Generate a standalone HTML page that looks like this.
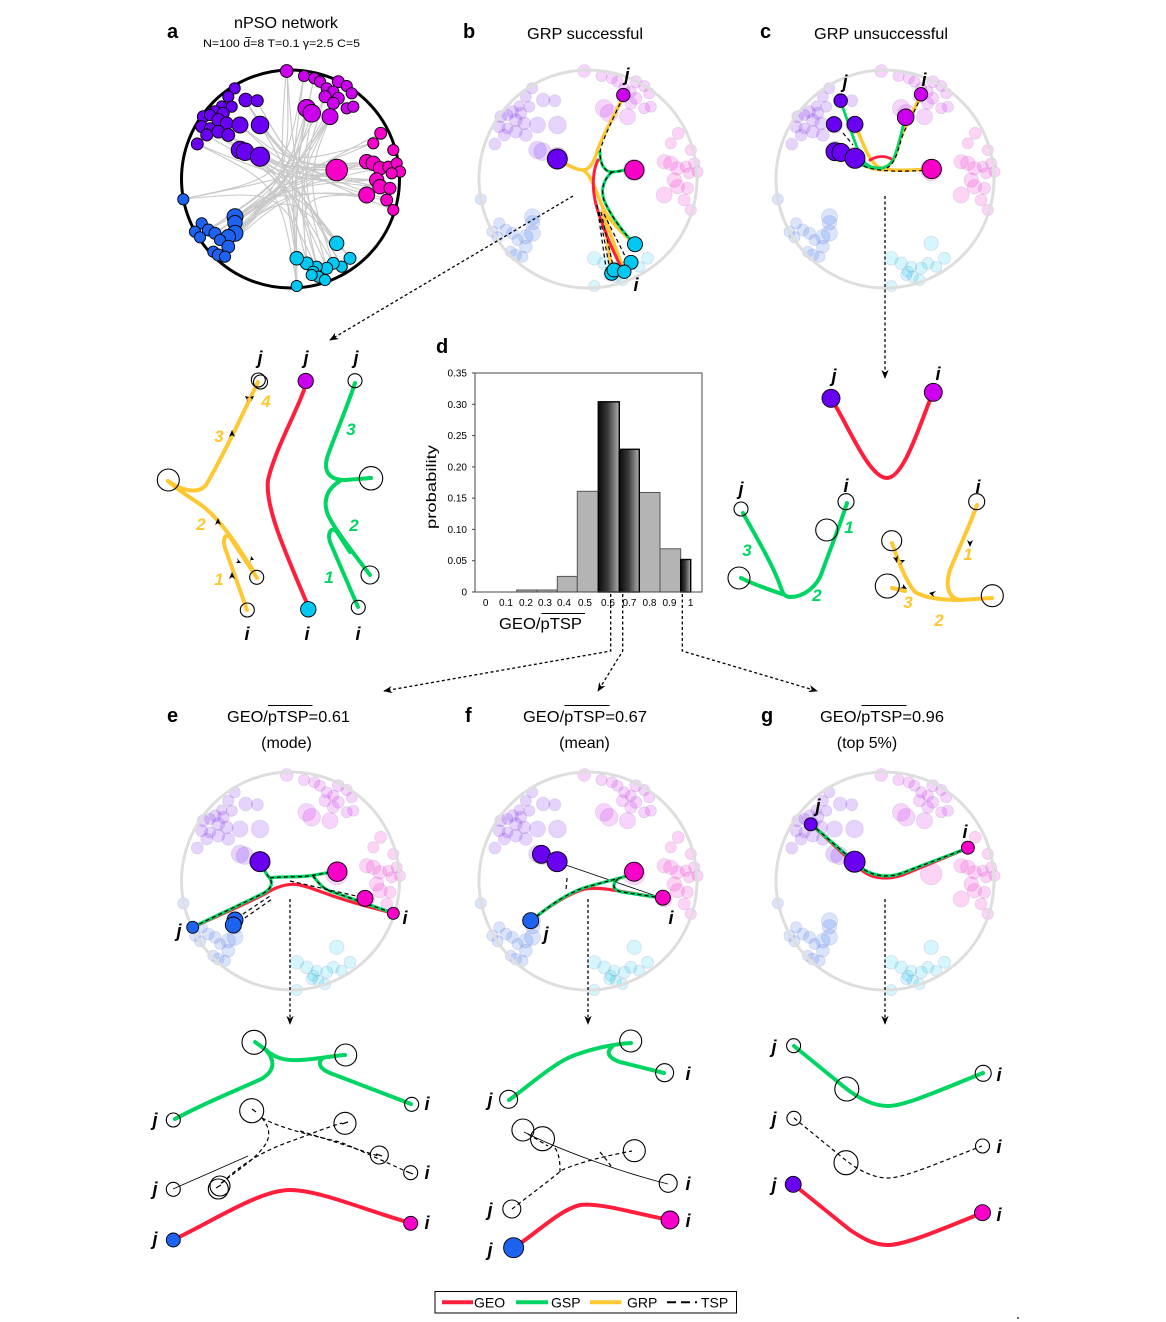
<!DOCTYPE html>
<html><head><meta charset="utf-8"><style>
html,body{margin:0;padding:0;background:#fff;}
svg{display:block;font-family:"Liberation Sans",Arial,sans-serif;}
.lab{font-weight:bold;font-style:italic;font-size:18px;text-anchor:middle;}
.num{font-weight:bold;font-style:italic;font-size:17px;text-anchor:middle;}
.ttl{font-size:16px;}
.pl{font-weight:bold;font-size:20px;}
.geo{stroke:#ff1f3d;fill:none;stroke-linecap:round;stroke-linejoin:round;}
.gsp{stroke:#00d564;fill:none;stroke-linecap:round;stroke-linejoin:round;}
.grp{stroke:#ffc832;fill:none;stroke-linecap:round;stroke-linejoin:round;}
.tsp{stroke:#000;fill:none;stroke-dasharray:4 3;stroke-width:1.2;}
.oc{fill:none;stroke:#000;stroke-width:1.1;}
.arr{stroke:#000;fill:none;stroke-width:1.3;stroke-dasharray:3 2.5;}
</style></head><body>
<svg width="1166" height="1322" viewBox="0 0 1166 1322" xmlns="http://www.w3.org/2000/svg">
<defs>
<linearGradient id="dg" x1="0" x2="1" y1="0" y2="0">
<stop offset="0" stop-color="#0a0a0a"/><stop offset="0.45" stop-color="#3a3a3a"/><stop offset="1" stop-color="#b0b0b0"/>
</linearGradient>
<marker id="ah" viewBox="0 0 10 10" refX="9" refY="5" markerWidth="7" markerHeight="7" orient="auto"><path d="M0,1 L10,5 L0,9 L3,5 Z" fill="#000"/></marker>
<g id="nodes">
<g fill="#6a00f2">
<circle cx="234.7" cy="88.3" r="5.6"/><circle cx="228.3" cy="96.7" r="5.6"/><circle cx="245.7" cy="100" r="6.8"/><circle cx="257.3" cy="100.7" r="6"/><circle cx="221.7" cy="106" r="5.2"/><circle cx="231.7" cy="106.7" r="5.6"/><circle cx="215" cy="111.7" r="6"/><circle cx="223.3" cy="113.3" r="6"/><circle cx="203.3" cy="116.7" r="6"/><circle cx="210" cy="115" r="5.6"/><circle cx="218.3" cy="120" r="6.4"/><circle cx="226.7" cy="123.3" r="6.4"/><circle cx="240" cy="125" r="8"/><circle cx="260" cy="125" r="8.8"/><circle cx="201.7" cy="126.7" r="6"/><circle cx="210" cy="128.3" r="5.6"/><circle cx="218.3" cy="131.7" r="6.4"/><circle cx="228.3" cy="135" r="6.4"/><circle cx="206.7" cy="135" r="6"/><circle cx="197.3" cy="144" r="6"/><circle cx="240" cy="150" r="8.8"/><circle cx="245" cy="151.7" r="8.8"/><circle cx="260" cy="156.7" r="9.6"/>
</g>
<g fill="#cc00ee">
<circle cx="286.7" cy="71" r="6.4"/><circle cx="304" cy="76" r="5.6"/><circle cx="314.3" cy="78.3" r="5.6"/><circle cx="320" cy="81.7" r="5.6"/><circle cx="338.3" cy="81.7" r="6"/><circle cx="346.7" cy="86" r="5.6"/><circle cx="326.7" cy="88.3" r="5.6"/><circle cx="333.3" cy="91.7" r="5.6"/><circle cx="351.7" cy="93.3" r="5.6"/><circle cx="325" cy="96.7" r="6"/><circle cx="338.3" cy="98.3" r="6"/><circle cx="333.3" cy="103.3" r="6"/><circle cx="346.7" cy="108.3" r="5.6"/><circle cx="353.3" cy="106.7" r="5.6"/><circle cx="306.7" cy="108.3" r="8.8"/><circle cx="311.7" cy="113.3" r="8.8"/><circle cx="330" cy="116.7" r="8"/>
</g>
<g fill="#f700c8">
<circle cx="380.7" cy="133.3" r="6"/><circle cx="373.3" cy="143.3" r="5.6"/><circle cx="393.3" cy="150" r="5.6"/><circle cx="336.7" cy="170" r="10.8"/><circle cx="366.7" cy="161.7" r="7.2"/><circle cx="373.3" cy="163.3" r="7.2"/><circle cx="380" cy="168.3" r="6.8"/><circle cx="388.3" cy="166.7" r="5.6"/><circle cx="396.7" cy="163.3" r="5.6"/><circle cx="400" cy="171.7" r="5.6"/><circle cx="391.7" cy="173.3" r="5.6"/><circle cx="376.7" cy="180" r="7.2"/><circle cx="366.7" cy="195" r="8"/><circle cx="380" cy="186.7" r="7.2"/><circle cx="390" cy="188.3" r="6"/><circle cx="386.7" cy="200" r="6"/><circle cx="393.3" cy="210" r="5.6"/>
</g>
<g fill="#1e62f0">
<circle cx="183.3" cy="199.3" r="5.6"/><circle cx="235" cy="216.7" r="8"/><circle cx="235" cy="222.7" r="7.2"/><circle cx="235" cy="233.3" r="8"/><circle cx="228.3" cy="236.7" r="7.2"/><circle cx="201.7" cy="223.3" r="5.6"/><circle cx="208.3" cy="230" r="6"/><circle cx="215" cy="233.3" r="6"/><circle cx="195" cy="231.7" r="5.6"/><circle cx="200" cy="237.3" r="5.6"/><circle cx="220" cy="240" r="5.6"/><circle cx="228.3" cy="246.7" r="6.4"/><circle cx="213.3" cy="251.7" r="5.6"/><circle cx="218.3" cy="255" r="6"/><circle cx="225" cy="256.7" r="5.6"/>
</g>
<g fill="#00c8f0">
<circle cx="336.7" cy="243.3" r="7.2"/><circle cx="350" cy="258.3" r="6"/><circle cx="341.7" cy="266.7" r="5.6"/><circle cx="333.3" cy="263.3" r="6"/><circle cx="326.7" cy="268.3" r="6"/><circle cx="316.7" cy="266.7" r="5.6"/><circle cx="306.7" cy="263.3" r="6.4"/><circle cx="313.3" cy="271.7" r="5.6"/><circle cx="318.3" cy="276.7" r="5.6"/><circle cx="325" cy="280" r="5.6"/><circle cx="296.7" cy="258.3" r="6.8"/><circle cx="296.7" cy="286" r="5.6"/><circle cx="311.7" cy="275" r="5.6"/>
</g>
</g>
</defs>

<!-- ============ PANEL A ============ -->
<text class="pl" x="167" y="38">a</text>
<text class="ttl" x="234" y="28" textLength="104" lengthAdjust="spacingAndGlyphs">nPSO network</text>
<text x="203" y="47" font-size="11" textLength="157" lengthAdjust="spacingAndGlyphs">N=100 d=8 T=0.1 γ=2.5 C=5</text>
<line x1="245" y1="37.5" x2="251" y2="37.5" stroke="#000" stroke-width="0.8"/>
<g fill="none" stroke="#c8c8c8" stroke-width="1.1">
<path d="M260,157 C290,180 290,180 337,243"/><path d="M240,150 C288,182 288,182 327,268"/><path d="M260,125 C292,178 292,178 317,267"/><path d="M245,100 C290,175 290,175 342,267"/><path d="M228,135 C285,178 285,178 307,263"/><path d="M218,132 C288,185 288,185 297,258"/><path d="M206,135 C285,180 285,180 333,263"/><path d="M197,144 C280,185 280,185 297,286"/><path d="M201,127 C290,178 290,178 350,258"/><path d="M257,101 C295,170 295,170 367,162"/><path d="M240,125 C290,172 290,172 373,163"/><path d="M260,157 C295,175 295,175 377,180"/><path d="M228,135 C290,170 290,170 367,195"/><path d="M240,150 C290,178 290,178 380,187"/><path d="M307,108 C285,180 285,180 235,217"/><path d="M312,113 C288,182 288,182 235,223"/><path d="M330,117 C290,185 290,185 228,237"/><path d="M325,97 C285,178 285,178 208,230"/><path d="M338,98 C290,182 290,182 215,233"/><path d="M333,103 C285,185 285,185 218,255"/><path d="M287,71 C290,170 290,170 228,247"/><path d="M304,76 C285,178 285,178 183,199"/><path d="M314,78 C292,180 292,180 235,233"/><path d="M307,108 C295,180 295,180 297,258"/><path d="M312,113 C300,185 300,185 307,263"/><path d="M330,117 C298,180 298,180 317,267"/><path d="M325,97 C300,175 300,175 327,268"/><path d="M338,98 C305,178 305,178 333,263"/><path d="M287,71 C295,178 295,178 342,267"/><path d="M337,170 C290,180 290,180 235,217"/><path d="M367,162 C290,185 290,185 235,223"/><path d="M373,163 C285,182 285,182 228,237"/><path d="M380,168 C288,188 288,188 208,230"/><path d="M377,180 C290,185 290,185 215,233"/><path d="M367,195 C290,190 290,190 218,255"/><path d="M373,143 C288,178 288,178 183,199"/><path d="M381,133 C290,180 290,180 228,247"/><path d="M387,200 C292,188 292,188 235,233"/><path d="M337,170 C295,185 295,185 297,286"/><path d="M367,195 C300,195 300,195 307,263"/><path d="M337,170 C290,170 290,170 260,157"/><path d="M373,143 C290,165 290,165 240,125"/><path d="M367,162 C292,168 292,168 245,100"/><path d="M235,217 C292,185 292,185 337,243"/><path d="M228,237 C290,190 290,190 350,258"/><path d="M183,199 C280,190 280,190 316,267"/><path d="M208,230 C285,180 285,180 307,108"/><path d="M218,255 C290,175 290,175 330,117"/><path d="M260,125 C295,170 295,170 380,187"/><path d="M245,100 C290,168 290,168 393,210"/><path d="M257,101 C292,165 292,165 387,200"/><path d="M201,127 C288,172 288,172 380,168"/><path d="M197,144 C285,180 285,180 377,180"/><path d="M297,258 C290,180 290,180 304,76"/><path d="M296,286 C292,185 292,185 314,78"/><path d="M286,71 C280,160 280,160 296,258"/><path d="M260,157 C300,170 300,170 366,162"/>
</g>
<circle cx="290.5" cy="179" r="109" fill="none" stroke="#000" stroke-width="3"/>
<use href="#nodes" stroke="#000" stroke-width="0.9"/>

<!-- ============ PANEL B ============ -->
<text class="pl" x="463" y="38">b</text>
<text class="ttl" x="527" y="39" textLength="116" lengthAdjust="spacingAndGlyphs">GRP successful</text>
<use href="#nodes" transform="translate(297.5,0)" fill-opacity="0.17" stroke="#8a6fb0" stroke-opacity="0.2" stroke-width="0.8"/>
<circle cx="588" cy="179" r="109" fill="none" stroke="#dedede" stroke-width="3"/>
<g stroke-width="3.5">
<path class="grp" d="M623,97 C615,115 600,140 597,152 C593,165 588,170 583,170 C575,170 565,163 558,160"/>
<path class="grp" d="M583,170 C592,175 597,195 603,208 C612,225 628,238 635,244"/>
<path class="grp" d="M603,208 C608,230 618,255 624,270"/>
<path class="grp" d="M603,210 C606,235 610,255 612,272"/>
</g>
<g stroke-width="3">
<path class="gsp" d="M600,152 C600,165 605,172 612,172 C620,172 628,168 634,170"/>
<path class="gsp" d="M612,172 C605,178 600,188 604,200 C610,215 625,235 635,244"/>
<path class="geo" d="M598,160 C593,170 592,185 595,200 C598,215 610,245 620,265"/>
</g>
<path class="tsp" d="M623,97 C615,115 602,140 600,152 C600,165 605,172 612,172 C620,172 628,168 634,170"/>
<path class="tsp" d="M612,172 C605,178 600,188 604,200 C610,215 625,235 635,244"/>
<path class="tsp" d="M599,212 L610,270 M601,212 L614,270 M604,214 L628,262 M597,205 L606,268"/>
<g stroke="#000" stroke-width="0.9">
<circle cx="623.3" cy="95" r="6.7" fill="#cc00ee"/>
<circle cx="557.3" cy="159" r="10" fill="#6a00f2"/>
<circle cx="634.3" cy="170" r="9.7" fill="#f700c8"/>
<circle cx="635" cy="244.3" r="7.5" fill="#00c8f0"/>
<circle cx="631" cy="262.3" r="7" fill="#00c8f0"/>
<circle cx="611.7" cy="273.3" r="7" fill="#00c8f0"/>
<circle cx="614" cy="270" r="7" fill="#00c8f0"/>
<circle cx="624.3" cy="271.7" r="6.7" fill="#00c8f0"/>
</g>
<text class="lab" x="627" y="81">j</text>
<text class="lab" x="636" y="291">i</text>

<!-- ============ PANEL C ============ -->
<text class="pl" x="760" y="38">c</text>
<text class="ttl" x="814" y="39" textLength="134" lengthAdjust="spacingAndGlyphs">GRP unsuccessful</text>
<use href="#nodes" transform="translate(594.5,0)" fill-opacity="0.17" stroke="#8a6fb0" stroke-opacity="0.2" stroke-width="0.8"/>
<circle cx="885" cy="179" r="109" fill="none" stroke="#dedede" stroke-width="3"/>
<g stroke-width="3.5">
<path class="grp" d="M855,125 C862,140 868,160 878,167 C890,172 910,170 931,169"/>
<path class="grp" d="M921,94 C915,110 905,125 900,140 C896,155 893,165 885,167"/>
<path class="grp" d="M855,158 C862,166 872,170 885,170"/>
</g>
<g stroke-width="2.8">
<path class="geo" d="M870,160 Q882,153 893,160"/>
<path class="gsp" d="M841,103 C846,115 852,135 858,150 C862,160 865,165 872,167 C880,170 888,168 893,160 C898,150 902,130 905,118"/>
<path class="gsp" d="M855,158 C860,166 868,168 880,168"/>
</g>
<path class="tsp" d="M843,133 L853,145"/>
<path class="tsp" d="M858,162 C866,170 885,173 931,170"/>
<path class="tsp" d="M921,96 C915,112 905,127 901,140 C897,155 894,164 887,168"/>
<g stroke="#000" stroke-width="0.9">
<circle cx="840.7" cy="100.7" r="6.7" fill="#6a00f2"/>
<circle cx="834" cy="124.3" r="7.7" fill="#6a00f2"/>
<circle cx="855" cy="124.3" r="8" fill="#6a00f2"/>
<circle cx="835" cy="151.7" r="9" fill="#6a00f2"/>
<circle cx="841" cy="152.5" r="9" fill="#6a00f2"/>
<circle cx="855" cy="158.3" r="10" fill="#6a00f2"/>
<circle cx="921" cy="94.3" r="6.7" fill="#cc00ee"/>
<circle cx="905.7" cy="117.3" r="8.3" fill="#cc00ee"/>
<circle cx="931.7" cy="169" r="9.7" fill="#f700c8"/>
</g>
<text class="lab" x="845" y="88">j</text>
<text class="lab" x="924" y="86">i</text>

<!-- arrows top -->
<path class="arr" d="M573,196 L330,340" marker-end="url(#ah)"/>
<path class="arr" d="M885,196 L885,378" marker-end="url(#ah)"/>

<!-- ============ LEFT MIDDLE (b detail) ============ -->
<g stroke-width="4">
<path class="grp" d="M247,610 L225,548 C222,538 226,533 230,537 C235,545 245,560 257,578"/>
<path class="grp" d="M254,572 C240,550 225,525 205,508 C195,500 180,492 168,481"/>
<path class="grp" d="M168,481 C180,490 198,495 206,485 C215,470 225,450 235,430 L258,382"/>
<path class="geo" d="M304,390 C295,415 275,450 268,480 C265,505 282,545 306,601"/>
<path class="gsp" d="M355,383 C348,405 335,435 328,455 C322,472 330,480 345,480 L371,478"/>
<path class="gsp" d="M370,575 C355,555 335,530 328,515 C322,500 328,488 340,481"/>
<path class="gsp" d="M358,607 L330,542 C327,532 332,526 337,532 L350,552"/>
</g>
<g fill="#000">
<path d="M232,430 l-3,7 l3,-2 l3,2 z"/>
<path d="M218,518 l-3,7 l3,-2 l3,2 z"/>
<path d="M232,572 l-3,7 l3,-2 l3,2 z"/>
<path d="M241,563 l-4,-5 l1,3 l-2,2 z"/>
<path d="M251,556 l-1,7 l1,-3 l3,0 z"/>
<path d="M245,396 l3,6 l-1,-3 l2,-2 z"/>
<path d="M254,396 l-3,6 l1,-3 l-2,-2 z"/>
</g>
<g class="oc">
<circle cx="258.3" cy="380" r="7"/><circle cx="260.5" cy="382" r="7"/>
<circle cx="168.3" cy="480" r="11"/>
<circle cx="256.7" cy="577.3" r="7"/>
<circle cx="247.3" cy="610" r="7"/>
<circle cx="355" cy="380.7" r="7"/>
<circle cx="371" cy="478.3" r="11.7"/>
<circle cx="370" cy="575" r="9"/>
<circle cx="358.3" cy="607.3" r="7"/>
</g>
<circle cx="305.7" cy="381" r="7.7" fill="#cc00ee" stroke="#000" stroke-width="0.9"/>
<circle cx="308.3" cy="609.3" r="7.7" fill="#00c8f0" stroke="#000" stroke-width="0.9"/>
<text class="lab" x="260" y="364">j</text><text class="lab" x="306" y="364">j</text><text class="lab" x="356" y="364">j</text>
<text class="lab" x="247" y="640">i</text><text class="lab" x="307" y="640">i</text><text class="lab" x="358" y="640">i</text>
<g fill="#ffc832"><text class="num" x="219" y="585">1</text><text class="num" x="201" y="530">2</text><text class="num" x="219" y="442">3</text><text class="num" x="266" y="407">4</text></g>
<g fill="#00d564"><text class="num" x="329" y="583">1</text><text class="num" x="354" y="531">2</text><text class="num" x="351" y="435">3</text></g>

<!-- ============ RIGHT MIDDLE (c detail) ============ -->
<g stroke-width="4">
<path class="geo" d="M835,405 C850,430 870,478 887,478 C903,478 918,430 930,400"/>
<path class="gsp" d="M743,513 C755,535 770,560 778,580 C783,592 782,596 790,597 C805,597 818,585 822,572 C830,550 840,525 847,503"/>
<path class="gsp" d="M741,578 C755,585 770,590 782,594"/>
<path class="grp" d="M977,505 C970,525 958,550 950,570 C945,585 948,598 960,600 L992,598"/>
<path class="grp" d="M960,600 C940,600 925,598 915,592 C905,580 898,560 892,543"/>
<path class="grp" d="M892,588 L905,591"/>
</g>
<g fill="#000">
<path d="M970,547 l-3,-7 l3,2 l3,-2 z"/>
<path d="M929,593 l7,-2 l-3,3 l1,3 z"/>
<path d="M897,563 l-4,-6 l3,1 l2,-3 z"/>
<path d="M905,560 l-5,5 l2,-3 l-2,-2 z"/>
<path d="M907,589 l-7,-1 l3,-1 l0,-3 z"/>
</g>
<g class="oc">
<circle cx="741" cy="509" r="7"/><circle cx="739" cy="578" r="11"/><circle cx="826.7" cy="530" r="11"/><circle cx="846" cy="501.7" r="8"/>
<circle cx="976.7" cy="501.7" r="8"/><circle cx="992.3" cy="595.7" r="11"/><circle cx="891.7" cy="540.7" r="10"/><circle cx="887.3" cy="586" r="12"/>
</g>
<circle cx="831" cy="398.3" r="9" fill="#6a00f2" stroke="#000" stroke-width="0.9"/>
<circle cx="933.3" cy="392.3" r="9" fill="#cc00ee" stroke="#000" stroke-width="0.9"/>
<text class="lab" x="834" y="382">j</text><text class="lab" x="938" y="380">i</text>
<text class="lab" x="741" y="495">j</text><text class="lab" x="846" y="492">i</text>
<text class="lab" x="978" y="493">i</text>
<g fill="#00d564"><text class="num" x="747" y="556">3</text><text class="num" x="817" y="601">2</text><text class="num" x="849" y="533">1</text></g>
<g fill="#ffc832"><text class="num" x="968" y="560">1</text><text class="num" x="939" y="626">2</text><text class="num" x="908" y="608">3</text></g>

<!-- ============ PANEL D histogram ============ -->
<text class="pl" x="436" y="353">d</text>
<g fill="#b4b4b4" stroke="#555" stroke-width="1">
<rect x="516.7" y="590" width="20.3" height="2"/>
<rect x="537" y="590" width="20.3" height="2"/>
<rect x="557.3" y="576.4" width="20" height="15.6"/>
<rect x="577.3" y="491.3" width="21" height="100.7"/>
<rect x="639.3" y="492.5" width="20.7" height="99.5"/>
<rect x="660" y="548.8" width="20.7" height="43.2"/>
</g>
<g fill="url(#dg)" stroke="#000" stroke-width="1.4">
<rect x="598.3" y="401.8" width="21" height="190.2"/>
<rect x="619.3" y="449.3" width="20" height="142.7"/>
<rect x="680.7" y="559.5" width="10" height="32.5"/>
</g>
<rect x="475" y="373" width="227" height="219" fill="none" stroke="#444" stroke-width="1"/>
<g stroke="#444" stroke-width="1">
<line x1="472" y1="373" x2="475" y2="373"/><line x1="472" y1="404.3" x2="475" y2="404.3"/><line x1="472" y1="435.6" x2="475" y2="435.6"/><line x1="472" y1="466.9" x2="475" y2="466.9"/><line x1="472" y1="498.1" x2="475" y2="498.1"/><line x1="472" y1="529.4" x2="475" y2="529.4"/><line x1="472" y1="560.7" x2="475" y2="560.7"/><line x1="472" y1="592" x2="475" y2="592"/>
</g>
<g font-size="10" text-anchor="end">
<text x="467" y="376.5">0.35</text><text x="467" y="407.8">0.30</text><text x="467" y="439.1">0.25</text><text x="467" y="470.4">0.20</text><text x="467" y="501.6">0.15</text><text x="467" y="532.9">0.10</text><text x="467" y="564.2">0.05</text><text x="467" y="595.5">0</text>
</g>
<g font-size="10" text-anchor="middle">
<text x="485.7" y="606">0</text><text x="506" y="606">0.1</text><text x="526" y="606">0.2</text><text x="545" y="606">0.3</text><text x="564" y="606">0.4</text><text x="585" y="606">0.5</text><text x="608" y="606">0.6</text><text x="629.5" y="606">0.7</text><text x="649.5" y="606">0.8</text><text x="669.5" y="606">0.9</text><text x="690.7" y="606">1</text>
</g>
<text x="0" y="0" font-size="14" text-anchor="middle" transform="translate(436,487) rotate(-90)" textLength="84" lengthAdjust="spacingAndGlyphs">probability</text>
<text x="499" y="629" font-size="16" textLength="83" lengthAdjust="spacingAndGlyphs">GEO/pTSP</text>
<line x1="541.5" y1="613.5" x2="585" y2="613.5" stroke="#000" stroke-width="1"/>

<!-- histogram arrows -->
<path class="arr" d="M610.7,594 L610.7,651 L384,691" marker-end="url(#ah)"/>
<path class="arr" d="M622.7,594 L622.7,651 L598,691" marker-end="url(#ah)"/>
<path class="arr" d="M682.3,594 L682.3,651 L817,691" marker-end="url(#ah)"/>

<!-- ============ PANEL E ============ -->
<text class="pl" x="167" y="722">e</text>
<text class="ttl" x="227" y="722" textLength="123" lengthAdjust="spacingAndGlyphs">GEO/pTSP=0.61</text>
<line x1="268" y1="705.5" x2="312.5" y2="705.5" stroke="#000" stroke-width="1"/>
<text class="ttl" x="286.5" y="748" text-anchor="middle">(mode)</text>
<use href="#nodes" transform="translate(0,704)" fill-opacity="0.17" stroke="#8a6fb0" stroke-opacity="0.2" stroke-width="0.8"/>
<circle cx="290.5" cy="881" r="109" fill="none" stroke="#dedede" stroke-width="3"/>
<g stroke-width="3.2">
<path class="geo" d="M193,927 C220,915 255,900 268,892 C280,885 290,883 300,885 C315,888 330,898 393,913"/>
<path class="gsp" d="M193,927 L262,894 C272,889 274,882 268,876 C265,872 262,866 260,862"/>
<path class="gsp" d="M270,878 C280,876 300,878 315,875 C325,873 332,872 337,872"/>
<path class="gsp" d="M313,876 C318,882 322,888 330,891 L393,913"/>
</g>
<path class="tsp" d="M193,927 L262,894 C272,889 274,882 268,876 C265,872 262,866 260,862"/>
<path class="tsp" d="M270,878 C280,876 300,878 315,875 C325,873 332,872 337,872"/>
<path class="tsp" d="M313,876 C318,882 322,888 330,891 L393,913"/>
<path class="tsp" d="M237,918 L270,896 M239,922 L272,899"/>
<path class="tsp" d="M290,881 L365,898"/>
<g stroke="#000" stroke-width="0.9">
<circle cx="260" cy="861.7" r="10" fill="#6a00f2"/>
<circle cx="337.3" cy="871.7" r="9.7" fill="#f700c8"/>
<circle cx="365" cy="898.3" r="8" fill="#f700c8"/>
<circle cx="393.3" cy="913.3" r="6" fill="#f700c8"/>
<circle cx="192.7" cy="927.3" r="6" fill="#1e62f0"/>
<circle cx="235" cy="920" r="8" fill="#1e62f0"/>
<circle cx="233.3" cy="925" r="8" fill="#1e62f0"/>
</g>
<text class="lab" x="179" y="937">j</text><text class="lab" x="405" y="924">i</text>
<path class="arr" d="M290,899 L290,1024" marker-end="url(#ah)"/>

<!-- e lower -->
<g stroke-width="4">
<path class="gsp" d="M175,1119 C210,1100 250,1085 263,1078 C275,1070 275,1060 266,1050 L255,1042"/>
<path class="gsp" d="M266,1050 C275,1058 285,1061 300,1060 C320,1059 330,1056 345,1055"/>
<path class="gsp" d="M323,1058 C318,1062 318,1068 330,1073 L411,1104"/>
<path class="geo" d="M173,1240 C215,1220 260,1190 290,1190 C320,1190 370,1212 410.7,1223"/>
</g>
<path d="M173,1189 L248,1156" stroke="#000" stroke-width="0.9" fill="none"/>
<path class="tsp" d="M262,1118 C268,1125 272,1135 265,1145 C255,1160 235,1172 220,1184"/>
<path class="tsp" d="M262,1118 C280,1128 310,1135 340,1142 C360,1150 385,1162 410,1173"/>
<path class="tsp" d="M222,1183 C245,1160 270,1148 300,1138 C320,1130 332,1126 342,1123"/>
<path class="tsp" d="M300,1131 C330,1140 360,1150 378,1156"/>
<g stroke="#000" stroke-width="1.2"><line x1="252" y1="1109" x2="256" y2="1112"/><line x1="342" y1="1124" x2="348" y2="1122"/><line x1="376" y1="1154" x2="382" y2="1156"/><line x1="408" y1="1172" x2="413" y2="1174"/><line x1="216" y1="1188" x2="221" y2="1185"/></g>
<g class="oc">
<circle cx="173.3" cy="1120" r="7"/><circle cx="254" cy="1042.3" r="12"/><circle cx="345.7" cy="1055" r="11"/><circle cx="411.7" cy="1104.3" r="7"/>
<circle cx="173.3" cy="1189.3" r="7"/><circle cx="251.7" cy="1110.7" r="12"/><circle cx="345" cy="1123.3" r="11"/><circle cx="379.3" cy="1155" r="9"/><circle cx="410.7" cy="1172.7" r="7"/><circle cx="220" cy="1186" r="10"/><circle cx="218.3" cy="1189" r="10"/>
</g>
<circle cx="173.3" cy="1240" r="7" fill="#1e62f0" stroke="#000" stroke-width="0.9"/>
<circle cx="410.7" cy="1223.3" r="7" fill="#f700c8" stroke="#000" stroke-width="0.9"/>
<text class="lab" x="155" y="1126">j</text><text class="lab" x="155" y="1195">j</text><text class="lab" x="155" y="1245">j</text>
<text class="lab" x="427" y="1110">i</text><text class="lab" x="427" y="1179">i</text><text class="lab" x="427" y="1229">i</text>

<!-- ============ PANEL F ============ -->
<text class="pl" x="465" y="722">f</text>
<text class="ttl" x="523" y="722" textLength="124" lengthAdjust="spacingAndGlyphs">GEO/pTSP=0.67</text>
<line x1="564.5" y1="705.5" x2="609.5" y2="705.5" stroke="#000" stroke-width="1"/>
<text class="ttl" x="584.5" y="748" text-anchor="middle">(mean)</text>
<use href="#nodes" transform="translate(297.5,704)" fill-opacity="0.17" stroke="#8a6fb0" stroke-opacity="0.2" stroke-width="0.8"/>
<circle cx="588" cy="881" r="109" fill="none" stroke="#dedede" stroke-width="3"/>
<line x1="557" y1="862" x2="662" y2="898" stroke="#000" stroke-width="0.8"/>
<g stroke-width="3.2">
<path class="geo" d="M531,921 C550,905 570,893 585,889 C600,886 620,892 662,898"/>
<path class="gsp" d="M531,921 C550,905 570,891 590,886 C605,882 620,878 634,874"/>
<path class="gsp" d="M618,879 C612,884 612,890 622,892 L662,898"/>
</g>
<path class="tsp" d="M531,921 C550,905 570,891 590,886 C605,882 620,878 634,874"/>
<path class="tsp" d="M618,879 C612,884 612,890 622,892 L662,898"/>
<path class="tsp" d="M567,878 L566,890"/>
<g stroke="#000" stroke-width="0.9">
<circle cx="541.4" cy="854.3" r="9" fill="#6a00f2"/>
<circle cx="557.1" cy="861.7" r="10" fill="#6a00f2"/>
<circle cx="634" cy="871.7" r="9.5" fill="#f700c8"/>
<circle cx="662.9" cy="897.7" r="7.5" fill="#f700c8"/>
<circle cx="530.7" cy="920.7" r="8" fill="#1e62f0"/>
</g>
<text class="lab" x="546" y="940">j</text><text class="lab" x="671" y="924">i</text>
<path class="arr" d="M588,899 L588,1024" marker-end="url(#ah)"/>

<!-- f lower -->
<g stroke-width="4">
<path class="gsp" d="M509,1100 C530,1085 555,1062 575,1055 C595,1048 615,1044 631,1043"/>
<path class="gsp" d="M612,1047 C606,1052 608,1058 620,1062 L664,1073"/>
<path class="geo" d="M514,1248 C540,1230 560,1210 580,1205 C600,1202 640,1215 670,1220"/>
</g>
<path d="M524,1132 C560,1150 620,1172 668,1184" stroke="#000" stroke-width="0.9" fill="none"/>
<path class="tsp" d="M512,1209 C530,1195 550,1180 562,1170 C580,1162 610,1155 632,1151"/>
<path class="tsp" d="M555,1148 C560,1155 560,1165 560,1172"/>
<path class="tsp" d="M528,1134 L548,1146"/>
<path class="tsp" d="M600,1152 C605,1158 610,1164 612,1168"/>
<g class="oc">
<circle cx="508.6" cy="1099.3" r="9"/><circle cx="630.7" cy="1041" r="11"/><circle cx="664.6" cy="1072.7" r="9"/>
<circle cx="511.8" cy="1209" r="9"/><circle cx="522.9" cy="1130" r="11"/><circle cx="542.5" cy="1138.7" r="12"/><circle cx="634.3" cy="1150.7" r="11"/><circle cx="668.2" cy="1183.3" r="9"/>
</g>
<circle cx="513.6" cy="1247.7" r="10" fill="#1e62f0" stroke="#000" stroke-width="0.9"/>
<circle cx="670" cy="1220" r="9" fill="#f700c8" stroke="#000" stroke-width="0.9"/>
<text class="lab" x="490" y="1106">j</text><text class="lab" x="490" y="1216">j</text><text class="lab" x="490" y="1256">j</text>
<text class="lab" x="688" y="1080">i</text><text class="lab" x="688" y="1190">i</text><text class="lab" x="688" y="1227">i</text>

<!-- ============ PANEL G ============ -->
<text class="pl" x="761" y="722">g</text>
<text class="ttl" x="820" y="722" textLength="124" lengthAdjust="spacingAndGlyphs">GEO/pTSP=0.96</text>
<line x1="861.5" y1="705.5" x2="906.5" y2="705.5" stroke="#000" stroke-width="1"/>
<text class="ttl" x="867" y="748" text-anchor="middle">(top 5%)</text>
<use href="#nodes" transform="translate(594.5,704)" fill-opacity="0.17" stroke="#8a6fb0" stroke-opacity="0.2" stroke-width="0.8"/>
<circle cx="885" cy="881" r="109" fill="none" stroke="#dedede" stroke-width="3"/>
<g stroke-width="3.2">
<path class="geo" d="M811,824 L850,860 C860,869 866,875 876,877 C885,879 895,878 905,874 L968,848"/>
<path class="gsp" d="M811,824 L850,858 C860,867 866,873 878,875 C887,877 895,876 905,872 L968,848"/>
</g>
<path class="tsp" d="M811,824 L850,858 C860,867 866,873 878,875 C887,877 895,876 905,872 L968,848"/>
<g stroke="#000" stroke-width="0.9">
<circle cx="810.7" cy="824.3" r="6.5" fill="#6a00f2"/>
<circle cx="854.6" cy="861.7" r="10.5" fill="#6a00f2"/>
<circle cx="967.9" cy="847.7" r="6.5" fill="#f700c8"/>
</g>
<text class="lab" x="818" y="812">j</text><text class="lab" x="965" y="838">i</text>
<path class="arr" d="M885,899 L885,1024" marker-end="url(#ah)"/>

<!-- g lower -->
<g stroke-width="4">
<path class="gsp" d="M794,1046 L843,1086 C860,1100 875,1106 888,1106 C905,1106 940,1090 983,1073"/>
<path class="geo" d="M793,1184 L850,1230 C865,1240 875,1245 888,1245 C905,1245 940,1230 982,1213"/>
</g>
<path class="tsp" d="M794,1118 L843,1158 C860,1172 875,1178 888,1178 C905,1178 940,1162 982,1146"/>
<g class="oc">
<circle cx="793.6" cy="1045.7" r="7"/><circle cx="846.8" cy="1089" r="12"/><circle cx="983.2" cy="1073.3" r="8"/>
<circle cx="793.9" cy="1118.3" r="7"/><circle cx="846" cy="1162.7" r="12"/><circle cx="982.5" cy="1146" r="7"/>
</g>
<circle cx="793.2" cy="1184.3" r="8" fill="#6a00f2" stroke="#000" stroke-width="0.9"/>
<circle cx="982.5" cy="1212.7" r="8" fill="#f700c8" stroke="#000" stroke-width="0.9"/>
<text class="lab" x="774" y="1053">j</text><text class="lab" x="774" y="1125">j</text><text class="lab" x="774" y="1191">j</text>
<text class="lab" x="999" y="1081">i</text><text class="lab" x="999" y="1153">i</text><text class="lab" x="999" y="1221">i</text>

<!-- ============ LEGEND ============ -->
<rect x="435" y="1291.5" width="301.5" height="21.5" fill="#fff" stroke="#000" stroke-width="1"/>
<line x1="442" y1="1302.3" x2="473" y2="1302.3" stroke="#ff1f3d" stroke-width="4"/>
<text x="474" y="1307.5" font-size="14">GEO</text>
<line x1="516" y1="1302.3" x2="548" y2="1302.3" stroke="#00d564" stroke-width="4"/>
<text x="551" y="1307.5" font-size="14">GSP</text>
<line x1="590" y1="1302.3" x2="621.5" y2="1302.3" stroke="#ffc832" stroke-width="4"/>
<text x="627" y="1307.5" font-size="14">GRP</text>
<line x1="667" y1="1302.3" x2="697" y2="1302.3" stroke="#000" stroke-width="2" stroke-dasharray="9 5"/>
<text x="701" y="1307.5" font-size="14">TSP</text>
<circle cx="1018" cy="1318" r="0.9" fill="#000"/>
</svg>
</body></html>
